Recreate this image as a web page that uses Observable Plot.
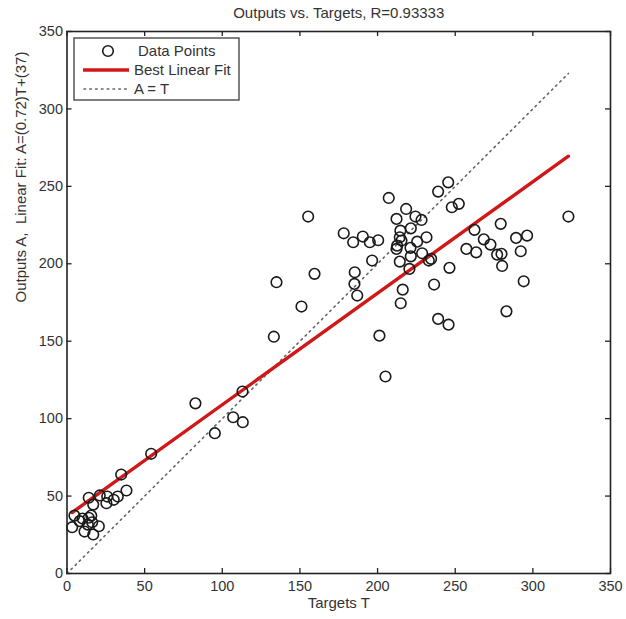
<!DOCTYPE html>
<html>
<head>
<meta charset="utf-8">
<script src="https://cdn.jsdelivr.net/npm/d3@7"></script>
<script src="https://cdn.jsdelivr.net/npm/@observablehq/plot@0.6"></script>
<style>
  html, body { margin: 0; padding: 0; background: #fff; }
  #wrap { position: relative; width: 626px; height: 619px; font-family: "Liberation Sans", Arial, sans-serif; }
  #legend { position: absolute; left: 0; top: 0; }
</style>
</head>
<body>
<div id="wrap"></div>
<script>
const titleText = "Outputs vs. Targets, R=0.93333";
const xLabel = "Targets T";
const yLabel = "Outputs A,  Linear Fit: A=(0.72)T+(37)";
const xTicks = [0, 50, 100, 150, 200, 250, 300, 350];
const yTicks = [0, 50, 100, 150, 200, 250, 300, 350];
const fitSlope = 0.72;
const fitIntercept = 37;
const legendLabels = ["Data Points", "Best Linear Fit", "A = T"];

const targets = [
  207.2, 245.5, 239.0, 218.4, 224.4, 228.3, 212.2, 221.4, 214.7, 214.3,
  215.4, 212.6, 212.2, 221.2, 225.5, 231.5, 221.4, 214.3, 220.5, 228.7,
  233.0, 234.5, 247.8, 252.3, 155.3, 178.2, 184.3, 190.5, 195.0, 200.4,
  196.5, 185.3, 185.1, 186.9, 159.4, 134.9, 151.0, 216.2, 214.9, 236.4,
  246.3, 239.0, 262.4, 279.3, 268.4, 272.7, 257.2, 263.5, 277.0, 279.8,
  280.2, 289.2, 296.3, 292.2, 294.1, 283.0, 245.7, 322.9, 201.2, 205.1,
  133.2,
  82.7, 107.0, 113.2, 95.2, 113.0, 54.2, 34.9, 38.3, 32.7, 30.1,
  25.9, 25.4, 21.1, 16.9, 14.0, 4.8, 8.2, 3.3, 14.0, 15.6,
  16.2, 13.4, 20.5, 11.3, 16.9, 10.0
];
const outputs = [
  242.5, 252.6, 246.6, 235.4, 230.5, 228.3, 229.0, 222.9, 221.4, 217.1,
  215.0, 211.7, 209.6, 210.3, 214.3, 217.1, 204.8, 201.4, 196.7, 206.8,
  202.1, 203.2, 236.5, 238.7, 230.5, 219.7, 213.9, 217.6, 213.9, 215.2,
  202.1, 194.5, 187.0, 179.5, 193.5, 188.1, 172.4, 183.3, 174.5, 186.6,
  197.4, 164.4, 221.9, 225.8, 215.8, 212.4, 209.6, 207.4, 205.9, 206.4,
  198.6, 216.7, 218.2, 208.1, 188.7, 169.3, 160.7, 230.5, 153.6, 127.2,
  152.9,
  109.9, 100.9, 97.7, 90.6, 117.5, 77.3, 63.9, 53.6, 49.7, 47.6,
  49.7, 45.4, 50.4, 44.5, 48.9, 37.4, 33.8, 29.9, 36.0, 37.4,
  33.1, 31.6, 30.5, 27.1, 25.2, 35.5
];

const points = targets.map((t, i) => ({T: t, A: outputs[i]}));
const tMin = d3.min(targets), tMax = d3.max(targets);
const fitLine = [tMin, tMax].map(t => ({T: t, A: fitSlope * t + fitIntercept}));
const idLine = [0, tMax].map(t => ({T: t, A: t}));

const W = 626, H = 619;
const mL = 66.5, mR = 16, mT = 31, mB = 46;
const innerH = H - mT - mB;
const innerW = W - mL - mR;
const tickLen = 5;
const textColor = "#333";

const chart = Plot.plot({
  width: W,
  height: H,
  marginLeft: mL,
  marginRight: mR,
  marginTop: mT,
  marginBottom: mB,
  style: { fontFamily: "'Liberation Sans', Arial, sans-serif", fontSize: "14.5px", background: "#fff", color: textColor },
  x: { domain: [0, 350] },
  y: { domain: [0, 350] },
  marks: [
    Plot.axisX({ ticks: xTicks, tickSize: 0, tickPadding: 7, label: null, fontSize: 14.5, fill: textColor, tickFormat: d => String(d) }),
    Plot.axisY({ ticks: yTicks, tickSize: 0, tickPadding: 4, label: null, fontSize: 14.5, fill: textColor, tickFormat: d => String(d) }),
    // inward ticks on all four sides
    Plot.tickX(xTicks, { x: d => d, insetTop: innerH - tickLen, stroke: "#222", strokeWidth: 1.3 }),
    Plot.tickX(xTicks, { x: d => d, insetBottom: innerH - tickLen, stroke: "#222", strokeWidth: 1.3 }),
    Plot.tickY(yTicks, { y: d => d, insetRight: innerW - tickLen, stroke: "#222", strokeWidth: 1.3 }),
    Plot.tickY(yTicks, { y: d => d, insetLeft: innerW - tickLen, stroke: "#222", strokeWidth: 1.3 }),
    Plot.line(idLine, { x: "T", y: "A", stroke: "#666", strokeWidth: 1.6, strokeDasharray: "1.6,4.2", strokeLinecap: "round" }),
    Plot.line(fitLine, { x: "T", y: "A", stroke: "#d01818", strokeWidth: 3.4 }),
    Plot.dot(points, { x: "T", y: "A", r: 5.3, stroke: "#1a1a1a", strokeWidth: 1.6, fill: "none" }),
    Plot.frame({ stroke: "#222", strokeWidth: 1.6 }),
    Plot.text([titleText], { frameAnchor: "top", dy: -18, text: d => d, fontSize: 15, fill: textColor, lineAnchor: "middle" }),
    Plot.text([xLabel], { frameAnchor: "bottom", dy: 30, text: d => d, fontSize: 15, fill: textColor, lineAnchor: "middle" }),
    Plot.text([yLabel], { frameAnchor: "left", dx: -45.5, rotate: -90, text: d => d, fontSize: 15, fill: textColor, lineAnchor: "middle" })
  ]
});

const wrap = document.getElementById("wrap");
wrap.appendChild(chart);

// Legend overlay
const leg = d3.select(wrap).append("svg")
  .attr("id", "legend")
  .attr("width", W).attr("height", H)
  .style("font-family", "'Liberation Sans', Arial, sans-serif")
  .style("font-size", "15px");
leg.append("rect").attr("x", 74).attr("y", 38).attr("width", 165).attr("height", 62)
  .attr("fill", "#fff").attr("stroke", "#555").attr("stroke-width", 1.5);
leg.append("circle").attr("cx", 108).attr("cy", 51).attr("r", 5.3)
  .attr("fill", "none").attr("stroke", "#1a1a1a").attr("stroke-width", 1.6);
leg.append("line").attr("x1", 83).attr("x2", 129).attr("y1", 70).attr("y2", 70)
  .attr("stroke", "#d01818").attr("stroke-width", 3.4);
leg.append("line").attr("x1", 84).attr("x2", 129).attr("y1", 89).attr("y2", 89)
  .attr("stroke", "#666").attr("stroke-width", 1.6).attr("stroke-dasharray", "1.6,4.2").attr("stroke-linecap", "round");
const ly = [51, 70, 89], lx = [138, 134, 134];
legendLabels.forEach((s, i) => {
  leg.append("text").attr("x", lx[i]).attr("y", ly[i]).attr("dy", "0.35em")
    .attr("fill", textColor).text(s);
});
</script>
</body>
</html>
